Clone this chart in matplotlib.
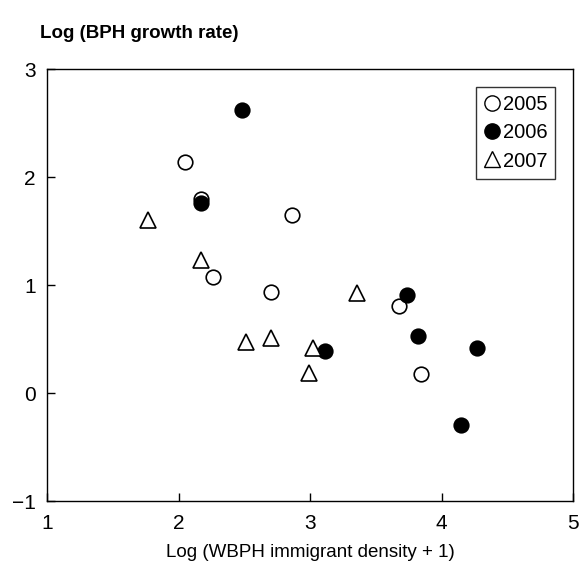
import matplotlib
matplotlib.use("Agg")
import matplotlib.pyplot as plt
from matplotlib.lines import Line2D

x2005 = [2.05, 2.17, 2.86, 2.26, 2.70, 3.68, 3.84]
y2005 = [2.14, 1.80, 1.65, 1.08, 0.94, 0.81, 0.18]
x2006 = [2.48, 2.17, 3.11, 3.74, 3.82, 4.27, 4.15]
y2006 = [2.62, 1.76, 0.39, 0.91, 0.53, 0.42, -0.30]
x2007 = [1.77, 2.17, 2.51, 2.70, 3.02, 2.99, 3.36]
y2007 = [1.60, 1.23, 0.47, 0.51, 0.42, 0.19, 0.93]
xticks = [1, 2, 3, 4, 5]
yticks = [-1, 0, 1, 2, 3]
title = "Log (BPH growth rate)"
xlabel = "Log (WBPH immigrant density + 1)"

plt.rcParams['font.family'] = ['Liberation Sans', 'DejaVu Sans']
fig = plt.figure(figsize=(5.83, 5.72), dpi=100)
ax = fig.add_axes([0.0806, 0.124, 0.983 - 0.0806, 0.879 - 0.124])

ax.plot(x2005, y2005, 'o', ms=10.5, mfc='white', mec='black', mew=1.2, ls='none')
ax.plot(x2006, y2006, 'o', ms=10.5, mfc='black', mec='black', mew=1.2, ls='none')
ax.plot(x2007, y2007, '^', ms=11, mfc='white', mec='black', mew=1.2, ls='none')

ax.set_xlim(1, 5)
ax.set_ylim(-1, 3)
ax.set_xticks(xticks)
ax.set_yticks(yticks)
ax.set_xticklabels([str(v) for v in xticks])
ax.set_yticklabels(['\u22121' if v < 0 else str(v) for v in yticks])
ax.tick_params(direction='in', length=6, width=1, labelsize=15, pad=9, color='black')
ax.tick_params(axis='y', pad=8)
for s in ax.spines.values():
    s.set_linewidth(1)
ax.set_xlabel(xlabel, fontsize=13.5, labelpad=8)

fig.text(0.069, 0.942, title, fontsize=13.5, fontweight='bold', ha='left', va='center')

handles = [
    Line2D([], [], marker='o', ls='none', ms=11, mfc='white', mec='black', mew=1),
    Line2D([], [], marker='o', ls='none', ms=11, mfc='black', mec='black', mew=1),
    Line2D([], [], marker='^', ls='none', ms=11.5, mfc='white', mec='black', mew=1),
]
leg = ax.legend(handles, ['2005', '2006', '2007'], loc='upper right',
                bbox_to_anchor=(0.966, 0.958), fontsize=14.5, frameon=True,
                fancybox=False, edgecolor='black', handlelength=0.8,
                handletextpad=0.1, borderpad=0.4, labelspacing=0.45,
                borderaxespad=0)
leg.get_frame().set_linewidth(1)

fig.savefig("out.png", dpi=100)
